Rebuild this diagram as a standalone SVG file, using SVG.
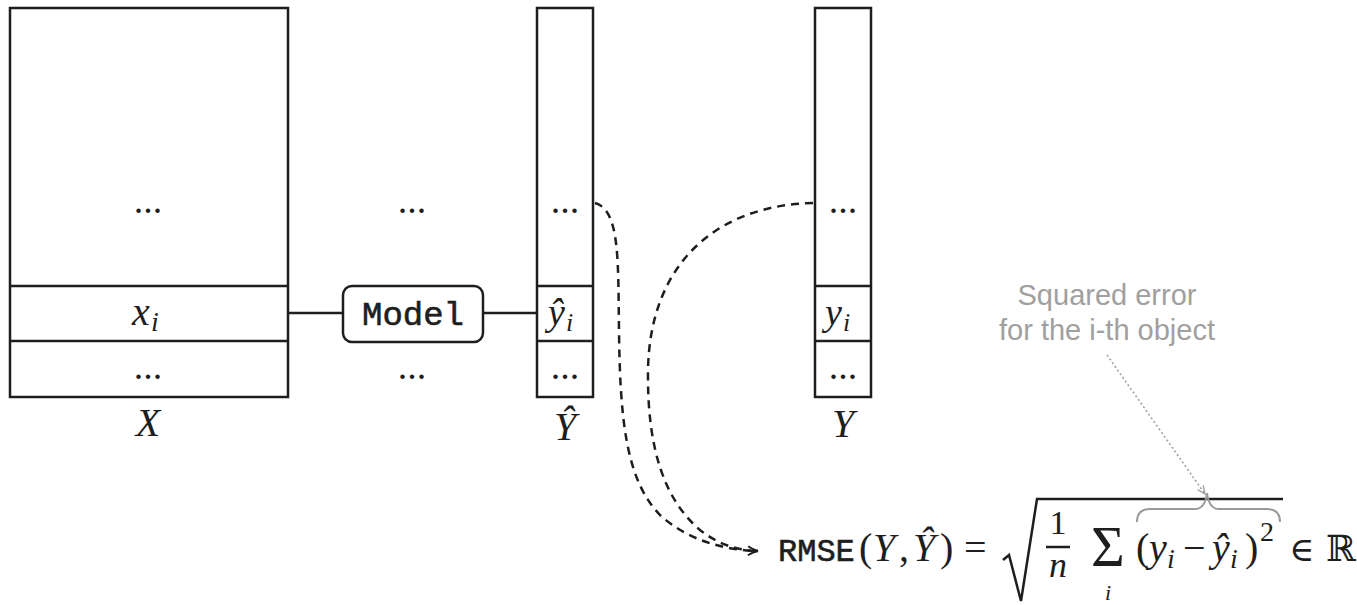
<svg xmlns="http://www.w3.org/2000/svg" width="1357" height="605" viewBox="0 0 1357 605">
  <style>
    .box { fill: none; stroke: #1e1e1e; stroke-width: 2.5; }
    .wire { fill: none; stroke: #1e1e1e; stroke-width: 2.5; }
    .dash { fill: none; stroke: #1e1e1e; stroke-width: 2.5; stroke-dasharray: 8 6; }
    .math { font-family: "Liberation Serif", "DejaVu Serif", serif; font-style: italic; fill: #1e1e1e; }
    .rm { font-family: "Liberation Serif", "DejaVu Serif", serif; fill: #1e1e1e; }
    .sym { font-family: "DejaVu Serif", "DejaVu Sans", serif; fill: #1e1e1e; }
    .tt { font-family: "Liberation Mono", "DejaVu Sans Mono", monospace; fill: #1e1e1e; stroke: #1e1e1e; stroke-width: 0.6; }
    .dots { font-family: "Liberation Serif", serif; font-size: 38px; fill: #1e1e1e; text-anchor: middle; }
    .note { font-family: "Liberation Sans", Arial, sans-serif; font-size: 29px; fill: #a0a0a0; text-anchor: middle; }
    .mid { text-anchor: middle; }
  </style>
  <defs>
    <marker id="arrow" viewBox="0 0 12 12" refX="11" refY="6" markerWidth="12" markerHeight="12" markerUnits="userSpaceOnUse" orient="auto">
      <path d="M1,1.5 Q6,5 11,6 Q6,7 1,10.5" fill="none" stroke="#1e1e1e" stroke-width="2"/>
    </marker>
    <marker id="arrowGray" viewBox="0 0 10 10" refX="9" refY="5" markerWidth="10" markerHeight="10" markerUnits="userSpaceOnUse" orient="auto">
      <path d="M1,1.5 L9,5 L1,8.5" fill="none" stroke="#a0a0a0" stroke-width="1.4"/>
    </marker>
  </defs>

  <rect width="1357" height="605" fill="#ffffff"/>

  <!-- feature matrix X -->
  <g id="matrix-x">
    <rect class="box" x="10" y="8" width="278" height="389"/>
    <line class="box" x1="10" y1="286" x2="288" y2="286"/>
    <line class="box" x1="10" y1="341" x2="288" y2="341"/>
    <text class="dots" x="148" y="213">...</text>
    <text class="math" x="132" y="325" font-size="40">x</text>
    <text class="math" x="151" y="331" font-size="28">i</text>
    <text class="dots" x="148" y="379">...</text>
    <text class="math mid" x="148" y="436" font-size="40">X</text>
  </g>

  <!-- model -->
  <g id="model">
    <text class="dots" x="412" y="213">...</text>
    <rect class="box" x="343" y="286" width="140" height="56" rx="9"/>
    <text class="tt mid" x="413" y="325" font-size="34">Model</text>
    <text class="dots" x="412" y="379">...</text>
  </g>

  <!-- predictions Y-hat -->
  <g id="predictions">
    <rect class="box" x="537" y="8" width="56" height="389"/>
    <line class="box" x1="537" y1="286" x2="593" y2="286"/>
    <line class="box" x1="537" y1="341" x2="593" y2="341"/>
    <text class="dots" x="565" y="213">...</text>
    <text class="math" x="548" y="325" font-size="38">ŷ</text>
    <text class="math" x="566" y="331" font-size="26">i</text>
    <text class="dots" x="565" y="379">...</text>
    <text class="math mid" x="565" y="440" font-size="40">Ŷ</text>
  </g>

  <!-- targets Y -->
  <g id="targets">
    <rect class="box" x="815" y="8" width="56" height="389"/>
    <line class="box" x1="815" y1="286" x2="871" y2="286"/>
    <line class="box" x1="815" y1="341" x2="871" y2="341"/>
    <text class="dots" x="843" y="213">...</text>
    <text class="math" x="825" y="325" font-size="38">y</text>
    <text class="math" x="843" y="331" font-size="26">i</text>
    <text class="dots" x="843" y="379">...</text>
    <text class="math mid" x="843" y="437" font-size="40">Y</text>
  </g>

  <!-- RMSE formula -->
  <g id="formula">
    <text class="tt" x="778" y="561" font-size="32">RMSE</text>
    <text class="rm" x="859" y="561" font-size="40">(</text>
    <text class="math" x="873" y="561" font-size="40">Y</text>
    <text class="rm" x="899" y="561" font-size="40">,</text>
    <text class="math" x="913" y="561" font-size="40">Ŷ</text>
    <text class="rm" x="940" y="561" font-size="40">)</text>
    <text class="rm" x="964" y="561" font-size="40">=</text>
    <polyline class="wire" points="1003,560 1009,555 1021,601 1037,499 1283,499" stroke-linejoin="miter"/>
    <text class="rm mid" x="1058" y="534" font-size="34">1</text>
    <line class="wire" x1="1046" y1="547" x2="1070" y2="547" stroke-width="2"/>
    <text class="math mid" x="1058" y="577" font-size="36">n</text>
    <text class="rm mid" x="1108" y="566" font-size="58">Σ</text>
    <text class="math mid" x="1108" y="600" font-size="22">i</text>
    <text class="rm" x="1136" y="561" font-size="40">(</text>
    <text class="math" x="1149" y="561" font-size="40">y</text>
    <text class="math" x="1167" y="568" font-size="28">i</text>
    <text class="rm" x="1183" y="561" font-size="40">−</text>
    <text class="math" x="1212" y="561" font-size="40">ŷ</text>
    <text class="math" x="1230" y="568" font-size="28">i</text>
    <text class="rm" x="1245" y="561" font-size="40">)</text>
    <text class="rm" x="1260" y="541" font-size="28">2</text>
    <text class="sym" x="1289" y="561" font-size="34">∈</text>
    <text class="sym" x="1326" y="561" font-size="36">ℝ</text>
    <path d="M1137,522 Q1137,509 1150,509 L1195,509 Q1205,509 1207,493 Q1209,509 1219,509 L1267,509 Q1280,509 1280,522" fill="none" stroke="#9a9a9a" stroke-width="2"/>
  </g>

  <!-- annotation -->
  <g id="annotation">
    <text class="note" x="1107" y="305">Squared error</text>
    <text class="note" x="1107" y="340">for the i-th object</text>
  </g>

  <!-- connectors -->
  <g id="connectors">
    <line class="wire" x1="288" y1="313" x2="343" y2="313"/>
    <line class="wire" x1="483" y1="313" x2="537" y2="313"/>
    <path class="dash" d="M595,203 C620,210 618,260 619,330 C620,420 626,480 660,515 C685,538 720,550 758,551" marker-end="url(#arrow)"/>
    <path class="dash" d="M813,203 C720,205 650,260 648,370 C647,450 665,500 700,530 C718,544 735,550 758,551"/>
    <line x1="1107" y1="355" x2="1205" y2="494" stroke="#a0a0a0" stroke-width="1.6" stroke-dasharray="2 2.5" marker-end="url(#arrowGray)"/>
  </g>
</svg>
